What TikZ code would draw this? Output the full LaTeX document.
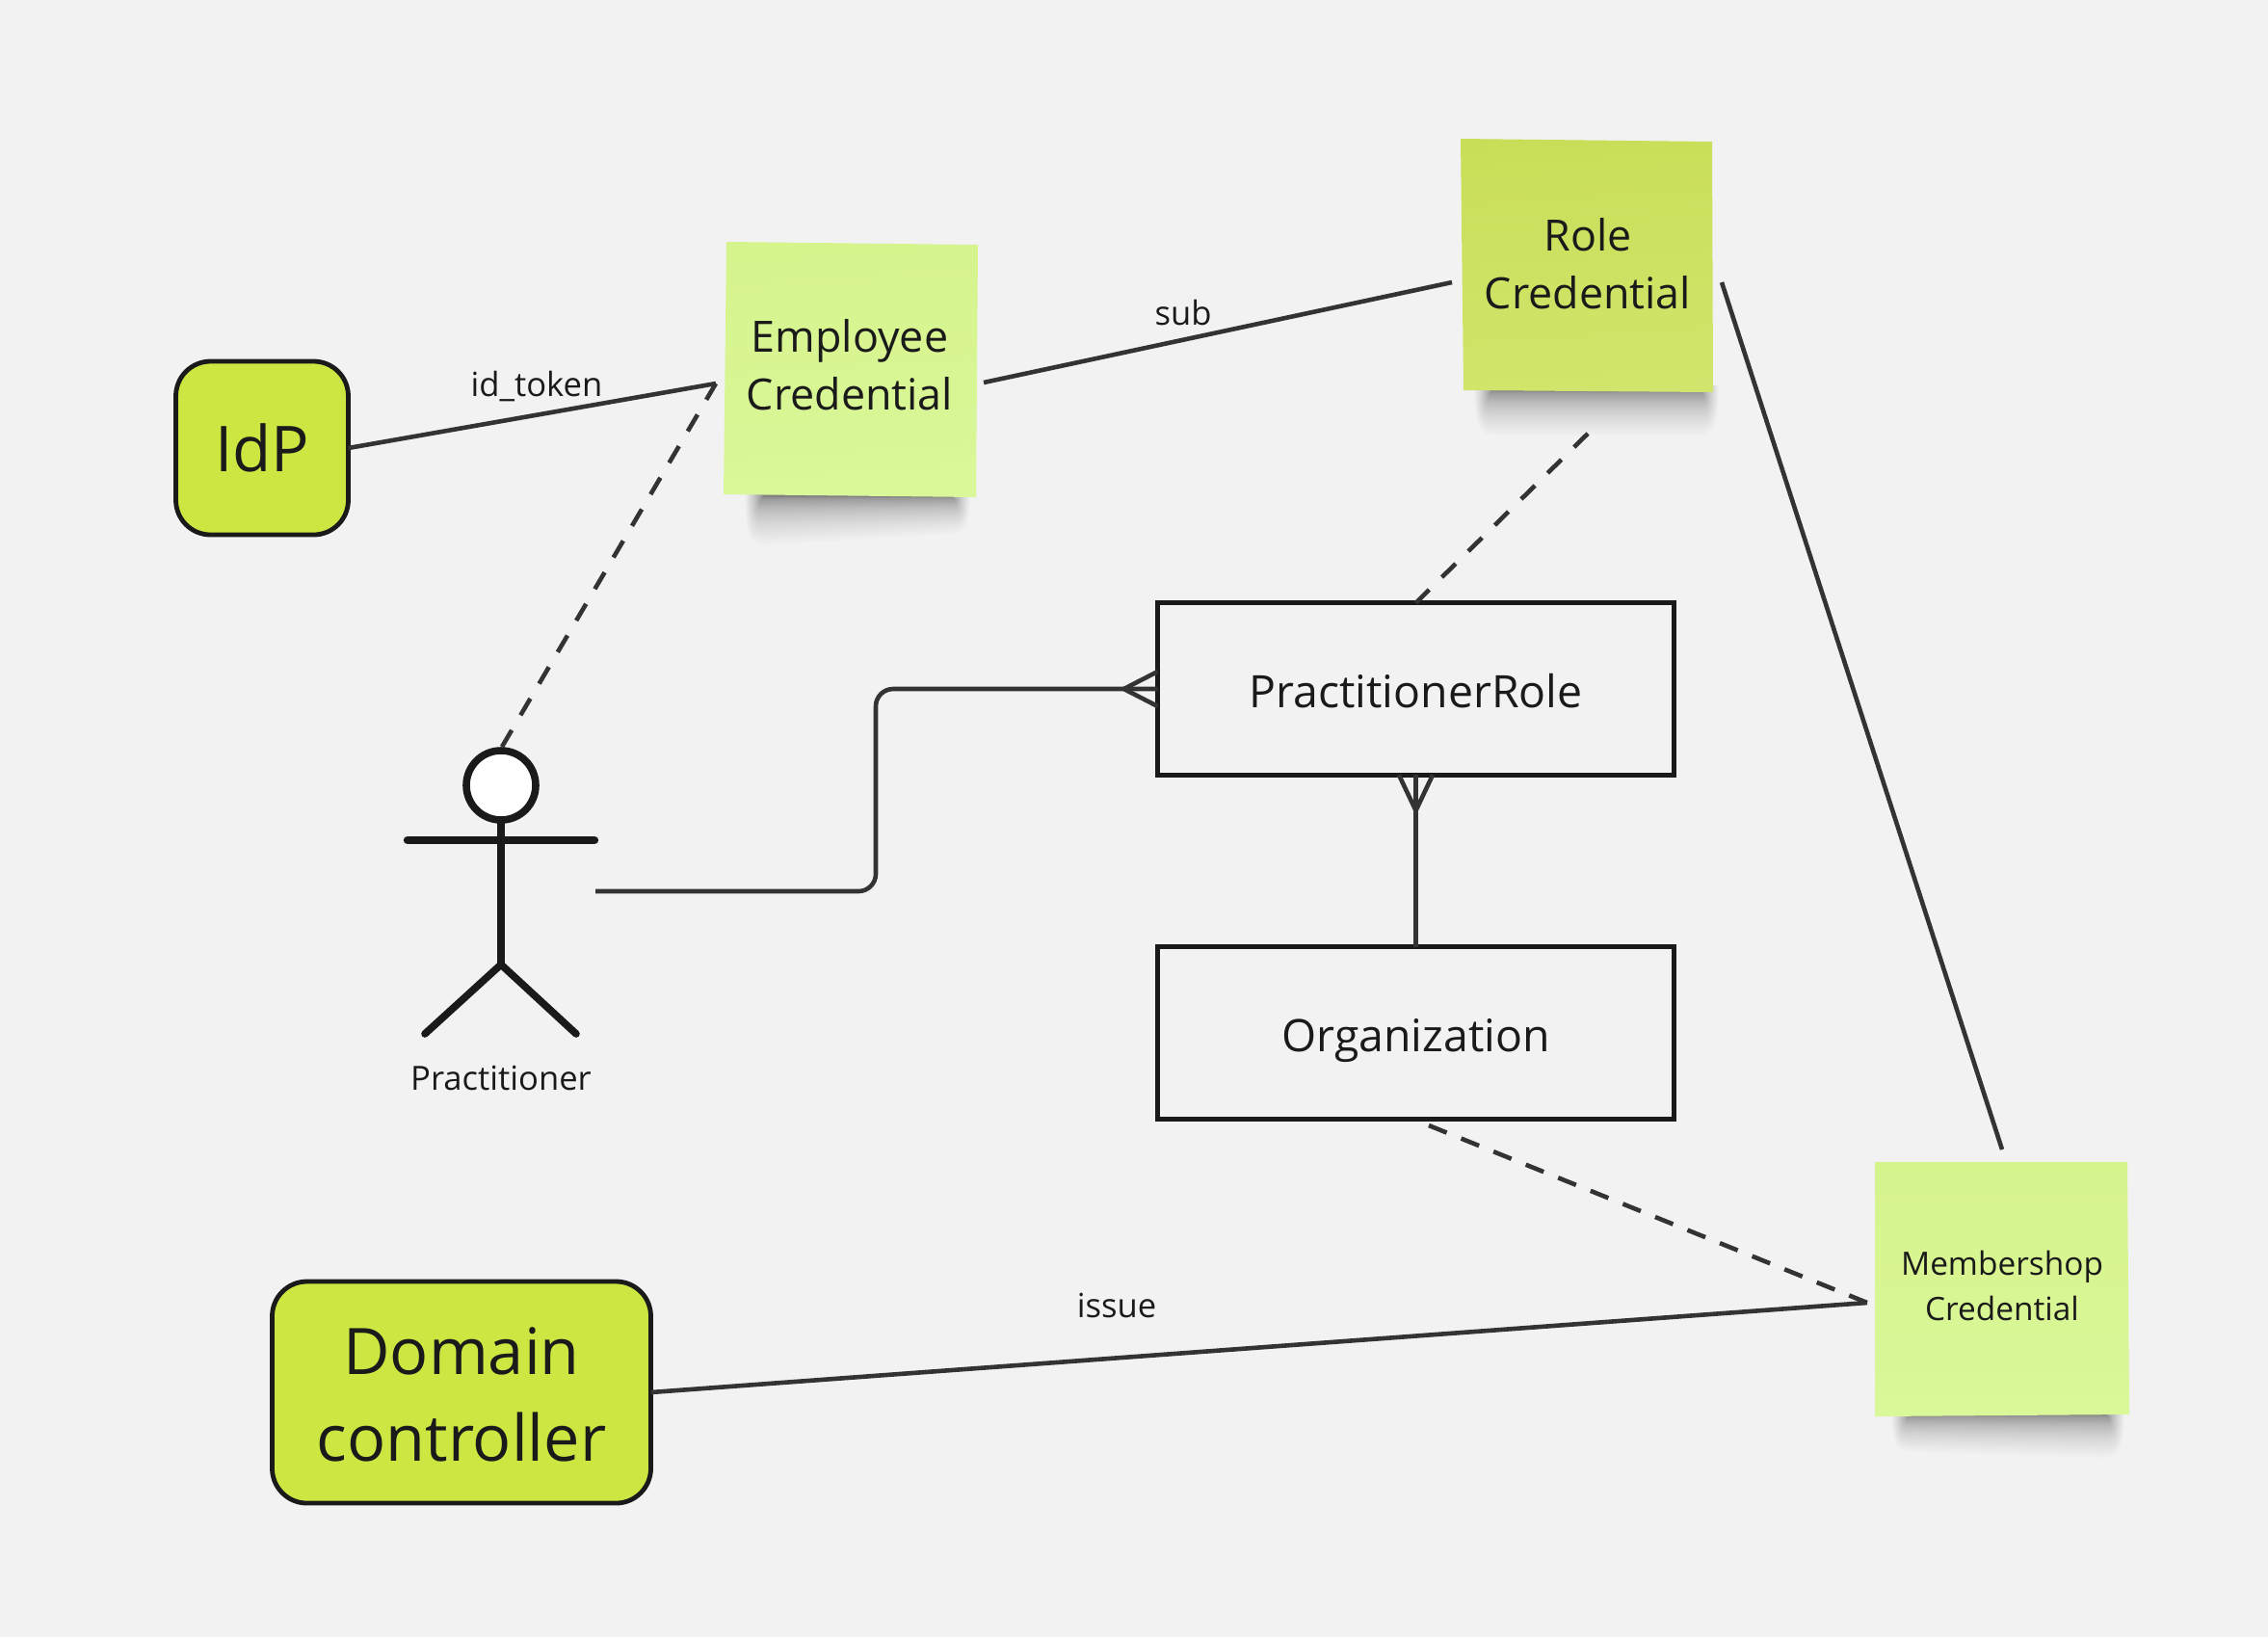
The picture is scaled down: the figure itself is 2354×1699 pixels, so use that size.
\documentclass[tikz,border=0pt]{standalone}
\usepackage{fontspec}
\setmainfont{Open Sans}
\usetikzlibrary{calc}
\definecolor{bgc}{HTML}{F2F2F2}
\definecolor{limeBox}{HTML}{CEE641}
\definecolor{inkc}{HTML}{1A1A1A}
\definecolor{linec}{HTML}{333333}
\definecolor{paleA}{HTML}{D6F48C}
\definecolor{paleB}{HTML}{DAF79A}
\definecolor{roleA}{HTML}{C9DE58}
\definecolor{roleB}{HTML}{D1E56C}
\tikzset{
  every node/.style={text=inkc,outer sep=0pt,inner sep=0pt},
  limebox/.style={draw=inkc,line width=2.4pt,fill=limeBox,rounded corners=18pt,align=center},
  erbox/.style={draw=inkc,line width=2.5pt,minimum width=268pt,minimum height=89.3pt,text height=24pt,text depth=4.4pt,font=\fontsize{23.2}{30}\selectfont},
  sticky/.style={align=center,font=\fontsize{22.4}{30}\selectfont},
  conn/.style={draw=linec,line width=2.3pt},
  dashconn/.style={conn,dash pattern=on 10pt off 9pt},
  lbl/.style={font=\fontsize{17.3}{22}\selectfont},
  actor/.style={draw=inkc,line width=3.8pt,line cap=round}
}
% soft shadow: x-left, x-right, y of note's lower edge, left depth, right depth
\newcommand{\noteshadow}[5]{%
  \foreach \i in {1,...,44}{
    \pgfmathsetmacro{\fr}{(\i/44)^2.6}
    \pgfmathsetmacro{\grow}{(\i/44)^1.5*22-10}
    \fill[black,opacity=0.013]
      ({#1-\grow},{#3-6}) -- ({#2+\grow},{#3-6})
      .. controls ({#2+\grow},{#3+#5*\fr*0.8}) and ({#2+\grow*0.5},{#3+#5*\fr}) .. ({#2-\grow*0.2-6},{#3+#5*\fr})
      -- ({#1+\grow*0.2+6},{#3+#4*\fr})
      .. controls ({#1-\grow*0.5},{#3+#4*\fr}) and ({#1-\grow},{#3+#4*\fr*0.8}) .. ({#1-\grow},{#3-6})
      -- cycle;
  }}
\begin{document}
\begin{tikzpicture}[x=0.5pt,y=-0.5pt]
\useasboundingbox[fill=bgc] (0,0) rectangle (2354,1699);

% note shadows
\noteshadow{785}{995}{516}{50}{38}
\noteshadow{1542}{1772}{406}{46}{46}
\noteshadow{1975}{2193}{1469}{38}{44}

% note paper
\shade[top color=paleA,bottom color=paleB,shading angle=4] (754,251) -- (1015,254) -- (1013,516) -- (751,513) -- cycle;
\shade[top color=roleA,bottom color=roleB,shading angle=4] (1516,144) -- (1777,147) -- (1778,407) -- (1519,405) -- cycle;
\shade[top color=paleA,bottom color=paleB] (1946,1206) -- (2208,1206) -- (2210,1468) -- (1946,1470) -- cycle;

% nodes
\node[limebox,minimum width=89.5pt,minimum height=90pt,font=\fontsize{32.8}{44}\selectfont] (idp) at (272,465) {IdP};
\node[limebox,minimum width=196.5pt,minimum height=115pt] (dc) at (479,1445) {};
\node[align=center,font=\fontsize{33.3}{45}\selectfont] (dctext) at (479,1447.5) {Domain\\controller};
\node[sticky] (emp) at (882,378.5) {Employee\\Credential};
\node[sticky] (role) at (1648,274) {Role\\Credential};
\node[align=center,font=\fontsize{16.7}{23.2}\selectfont] (mem) at (2078,1334.5) {Membershop\\Credential};
\node[erbox] (pr) at (1469.5,715) {PractitionerRole};
\node[erbox] (org) at (1469.5,1072) {Organization};
\node[lbl] (actorname) at (520,1119) {Practitioner};
\node[lbl] (l1) at (557,401) {id\_token};
\node[lbl] (l2) at (1228,325) {sub};
\node[lbl] (l3) at (1159,1355) {issue};

% free connector ends
\coordinate (empIn) at (743,398);
\coordinate (actTop) at (521,775);
\coordinate (empOut) at (1021,397);
\coordinate (roleIn) at (1507,293);
\coordinate (roleOut) at (1787,293);
\coordinate (memTop) at (2078,1193);
\coordinate (roleBot) at (1648,450);
\coordinate (orgBot) at (1483,1168);
\coordinate (memIn) at (1938,1352);
\coordinate (actOut) at (618,925);
\coordinate (bendA) at (909,925);

% connectors
\draw[conn] (idp.east) -- (empIn);
\draw[dashconn] (actTop) -- (empIn);
\draw[conn] (empOut) -- (roleIn);
\draw[conn] (roleOut) -- (memTop);
\draw[conn,dash pattern=on 10pt off 9.25pt] (roleBot) -- (pr.north);
\draw[conn,rounded corners=9pt] (actOut) -- (bendA) -- (bendA |- pr.west) -- (pr.west);
\draw[conn] ([yshift=9pt]pr.west) -- ++(-17.5pt,-9pt) -- ([yshift=-9pt]pr.west);
\draw[conn] (pr.south) -- (org.north);
\draw[conn] ([xshift=-8.75pt]pr.south) -- ++(8.75pt,-18.5pt) -- ([xshift=8.75pt]pr.south);
\draw[conn,dash pattern=on 10pt off 8.1pt] (orgBot) -- (memIn);
\draw[conn] (dc.east) -- (memIn);

% actor
\draw[actor] (520,852) -- (520,1001);
\draw[actor] (441,1073) -- (520,1001) -- (598,1073);
\draw[actor,line width=4.2pt] (423,872) -- (617,872);
\node[circle,draw=inkc,line width=3.8pt,fill=white,minimum size=36pt] (head) at (520,815) {};
\end{tikzpicture}
\end{document}
